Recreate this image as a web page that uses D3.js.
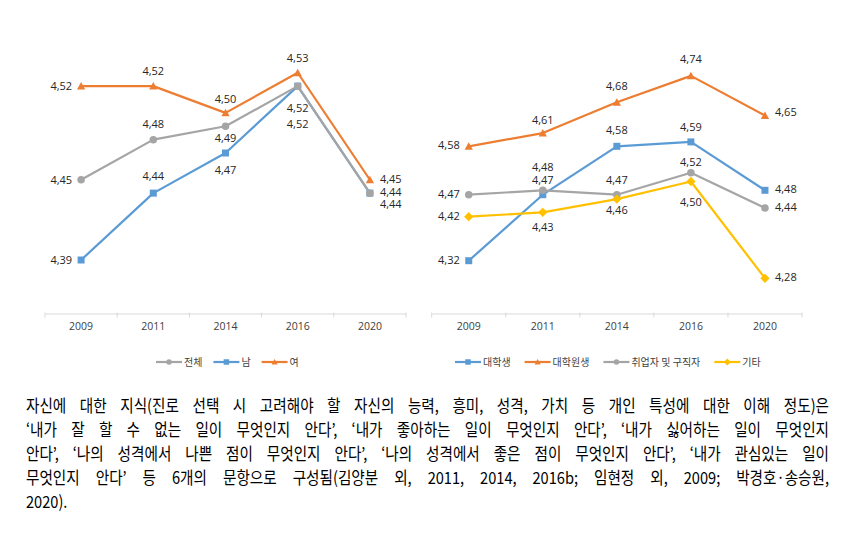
<!DOCTYPE html>
<html>
<head>
<meta charset="utf-8">
<script src="https://cdn.jsdelivr.net/npm/d3@7/dist/d3.min.js"></script>
<style>
  html, body { margin: 0; padding: 0; background: #fff; }
  svg { display: block; }
</style>
</head>
<body>
<svg id="chart" width="860" height="541"></svg>
<script>
// ---------- DATA ----------
const years = ["2009", "2011", "2014", "2016", "2020"];

// Left chart (gender)
const leftNames = ["전체", "남", "여"];
const leftTotal = [4.45, 4.48, 4.49, 4.52, 4.44];
const leftMale = [4.39, 4.44, 4.47, 4.52, 4.44];
const leftFemale = [4.52, 4.52, 4.50, 4.53, 4.45];

// Right chart (status)
const rightNames = ["대학생", "대학원생", "취업자 및 구직자", "기타"];
const rightUndergrad = [4.32, 4.47, 4.58, 4.59, 4.48];
const rightGrad = [4.58, 4.61, 4.68, 4.74, 4.65];
const rightEmployed = [4.47, 4.48, 4.47, 4.52, 4.44];
const rightOther = [4.42, 4.43, 4.46, 4.50, 4.28];

const captionLines = [
  "자신에 대한 지식(진로 선택 시 고려해야 할 자신의 능력, 흥미, 성격, 가치 등 개인 특성에 대한 이해 정도)은",
  "‘내가 잘 할 수 없는 일이 무엇인지 안다’, ‘내가 좋아하는 일이 무엇인지 안다’, ‘내가 싫어하는 일이 무엇인지",
  "안다’, ‘나의 성격에서 나쁜 점이 무엇인지 안다’, ‘나의 성격에서 좋은 점이 무엇인지 안다’, ‘내가 관심있는 일이",
  "무엇인지 안다’ 등 6개의 문항으로 구성됨(김양분 외, 2011, 2014, 2016b; 임현정 외, 2009; 박경호·송승원,",
  "2020)."
];

// ---------- STYLE / LAYOUT ----------
const COLORS = { blue: "#5B9BD5", orange: "#ED7D31", gray: "#A5A5A5", yellow: "#FFC000" };
const numFont = "'Open Sans', 'Noto Sans', sans-serif";
const korFont = "'Noto Sans CJK KR', 'Noto Sans', sans-serif";
const fmt = v => d3.format(".2f")(v).replace(".", ",");

const svg = d3.select("#chart");

// label placement: pos code + vertical offset
const leftSeries = [
  { name: leftNames[1], values: leftMale, color: COLORS.blue, shape: "square",
    pos: ["L", "T", "B", "B", "R"], dy: [0, -17, 17, 38, 11.5] },
  { name: leftNames[2], values: leftFemale, color: COLORS.orange, shape: "triangle",
    pos: ["L", "T", "T", "T", "R"], dy: [0, -15, -13.5, -15, -1] },
  { name: leftNames[0], values: leftTotal, color: COLORS.gray, shape: "circle",
    pos: ["L", "T", "B", "B", "R"], dy: [0, -15, 11.6, 22.3, -0.5] }
];
const leftLegend = [leftSeries[2], leftSeries[0], leftSeries[1]];

const rightSeries = [
  { name: rightNames[0], values: rightUndergrad, color: COLORS.blue, shape: "square",
    pos: ["L", "T", "T", "T", "R"], dy: [-1, -14.3, -15.7, -14.7, -1.5] },
  { name: rightNames[1], values: rightGrad, color: COLORS.orange, shape: "triangle",
    pos: ["L", "T", "T", "T", "R"], dy: [-1, -13.4, -15.7, -16.4, -3] },
  { name: rightNames[2], values: rightEmployed, color: COLORS.gray, shape: "circle",
    pos: ["L", "T", "T", "T", "R"], dy: [-0.5, -23.3, -15, -10.6, -0.5] },
  { name: rightNames[3], values: rightOther, color: COLORS.yellow, shape: "diamond",
    pos: ["L", "B", "B", "B", "R"], dy: [-1, 15, 10.7, 20.6, -1] }
];

function markerPath(shape, size) {
  const s = size;
  if (shape === "square") return `M${-s/2},${-s/2}h${s}v${s}h${-s}Z`;
  if (shape === "triangle") return `M0,${-s*0.55}L${s*0.55},${s*0.45}L${-s*0.55},${s*0.45}Z`;
  if (shape === "diamond") return `M0,${-s*0.62}L${s*0.62},0L0,${s*0.62}L${-s*0.62},0Z`;
  return d3.symbol(d3.symbolCircle, Math.PI * (s/2) * (s/2))();
}

function drawChart(cfg) {
  const g = svg.append("g");
  const x = d3.scaleBand().domain(years).range([cfg.x0, cfg.x1]);
  const y = d3.scaleLinear().domain(cfg.domain).range([cfg.yBottom, cfg.yTop]);

  // x axis
  const axis = d3.axisBottom(x).tickSize(0).tickPadding(9);
  const ax = g.append("g").attr("transform", `translate(0,${cfg.yBottom})`).call(axis);
  ax.select(".domain").attr("stroke", "#d9d9d9").attr("stroke-width", 1);
  ax.selectAll("text").attr("font-family", numFont).attr("font-size", 10.5).attr("fill", "#404040");
  // category boundary ticks
  const bounds = years.map(d => x(d)).concat([cfg.x1]);
  g.selectAll(".bt").data(bounds).enter().append("line")
    .attr("x1", d => d).attr("x2", d => d)
    .attr("y1", cfg.yBottom - 1).attr("y2", cfg.yBottom + 4)
    .attr("stroke", "#d9d9d9").attr("stroke-width", 1);

  const cx = d => x(d) + x.bandwidth() / 2;
  const line = d3.line().x((d, i) => cx(years[i])).y(d => y(d));

  cfg.series.forEach(s => {
    const sg = g.append("g");
    sg.append("path").datum(s.values)
      .attr("d", line).attr("fill", "none")
      .attr("stroke", s.color).attr("stroke-width", 2.2)
      .attr("stroke-linejoin", "round");
    sg.selectAll(".m").data(s.values).enter().append("path")
      .attr("transform", (d, i) => `translate(${cx(years[i])},${y(d)})`)
      .attr("d", markerPath(s.shape, s.shape === "circle" ? 7.5 : s.shape === "square" ? 7 : 7.5))
      .attr("fill", s.color);
  });

  // labels
  cfg.series.forEach(s => {
    g.selectAll(null).data(s.values).enter().append("text")
      .attr("x", (d, i) => {
        const p = s.pos[i];
        return cx(years[i]) + (p === "L" ? -9 : p === "R" ? 10 : 0);
      })
      .attr("y", (d, i) => y(d) + s.dy[i])
      .attr("dy", "0.35em")
      .attr("text-anchor", (d, i) => s.pos[i] === "L" ? "end" : s.pos[i] === "R" ? "start" : "middle")
      .attr("font-family", numFont).attr("font-size", 11).attr("fill", "#262626")
      .text(d => fmt(d));
  });

  // legend
  let lx = cfg.legendX;
  const ly = 362;
  cfg.legend.forEach(s => {
    const lg = g.append("g");
    lg.append("line").attr("x1", lx).attr("x2", lx + 26).attr("y1", ly).attr("y2", ly)
      .attr("stroke", s.color).attr("stroke-width", 2.2);
    lg.append("path").attr("transform", `translate(${lx + 13},${ly})`)
      .attr("d", markerPath(s.shape, 5.5)).attr("fill", s.color);
    const t = lg.append("text").attr("x", lx + 28).attr("y", ly).attr("dy", "0.35em")
      .attr("font-family", korFont).attr("font-size", 10).attr("fill", "#404040")
      .text(s.name);
    lx += 28 + t.node().getComputedTextLength() + cfg.legendGap;
  });
}

drawChart({
  x0: 45, x1: 406, yBottom: 313.5, yTop: 46, domain: [4.35, 4.55],
  series: leftSeries, legend: leftLegend, legendX: 156, legendGap: 11
});
drawChart({
  x0: 431.7, x1: 802, yBottom: 313.5, yTop: 49.5, domain: [4.2, 4.8],
  series: rightSeries, legend: rightSeries, legendX: 455, legendGap: 14
});

// ---------- CAPTION (justified) ----------
const capLeft = 26, capRight = 829, capY0 = 412, capLH = 24.1;
const capScale = 0.87, capSize = 16.8;
captionLines.forEach((ln, li) => {
  const words = ln.split(" ");
  const nodes = words.map(w => svg.append("text")
    .attr("font-family", korFont).attr("font-size", capSize).attr("fill", "#000")
    .text(w));
  const widths = nodes.map(n => n.node().getComputedTextLength() * capScale);
  const total = d3.sum(widths);
  const last = li === captionLines.length - 1;
  const gap = (!last && words.length > 1) ? (capRight - capLeft - total) / (words.length - 1) : 5;
  let xx = capLeft;
  nodes.forEach((n, i) => {
    n.attr("transform", `translate(${xx},${capY0 + li * capLH}) scale(${capScale},1)`);
    xx += widths[i] + gap;
  });
});
</script>
</body>
</html>
